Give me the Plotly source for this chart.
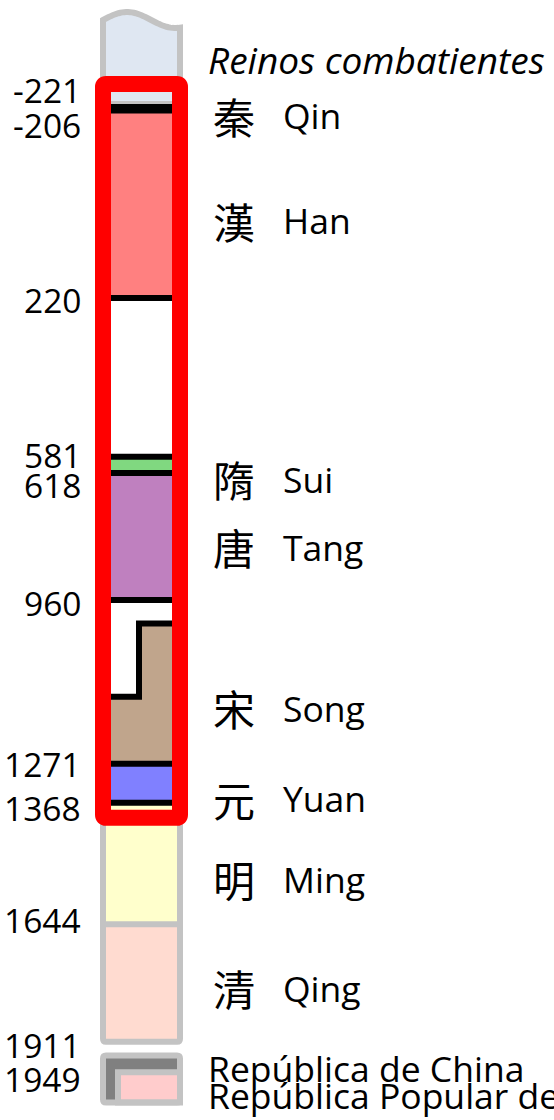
import math
import plotly.graph_objects as go

# ---------------- data ----------------
dynasty_names = ["Reinos combatientes", "Qin", "Han", "Sui", "Tang", "Song", "Yuan", "Ming", "Qing"]
dynasty_hanzi = ["", "秦", "漢", "隋", "唐", "宋", "元", "明", "清"]
dynasty_start = [-475, -221, -206, 581, 618, 960, 1279, 1368, 1644]
dynasty_end = [-221, -206, 220, 618, 907, 1279, 1368, 1644, 1911]
song_full_width_from = 1127          # Song fills the whole column from this year
highlighted = ["Qin", "Han", "Sui", "Tang", "Song", "Yuan"]

modern_names = ["República de China", "República Popular de China"]
modern_start = [1911, 1949]
modern_end = [2018, 2018]

year_labels = [-221, -206, 220, 581, 618, 960, 1271, 1368, 1644, 1911, 1949]

# ---------------- style / layout ----------------
W, H = 554, 1120
PX_PER_YEAR = 0.4398
ANCHOR_YEAR, ANCHOR_PX = -221, 104
MODERN_ANCHOR_PX = 1055.5
COL_L, COL_R = 103, 180
SONG_SPLIT_X = 139
ROC_STRIP_X = 118
GRAY = "#c3c3c3"
BLACK = "#000000"
RED = "#ff0000"
fill_colors = {
    "Reinos combatientes": "#dfe7f2", "Qin": "#000000", "Han": "#ff8080",
    "Sui": "#80d880", "Tang": "#bf80bf", "Song": "#c0a58c", "Yuan": "#8080ff",
    "Ming": "#ffffcc", "Qing": "#ffdbd0",
}
modern_colors = ["#808080", "#ffcccc"]
LATIN_FONT = "Open Sans"
CJK_FONT = "Noto Sans CJK TC"
LABEL_SIZE = 35.5
ITALIC_SIZE = 37
YEAR_SIZE = 33.5
CJK_SIZE = 42
# vertical nudges of the text labels (pixels, positive = down)
name_shift = {"Reinos combatientes": -3, "Qin": 8, "Han": 16, "Sui": 14, "Tang": 10,
              "Song": 14, "Yuan": 15, "Ming": 15, "Qing": 5}
modern_shift = [4, 8]
year_shift = {-221: -14, -206: 14, 220: 2, 581: -2, 618: 12, 960: -20,
              1271: 4, 1368: 5, 1644: -4, 1911: 3, 1949: 7}

y_top = ANCHOR_YEAR - ANCHOR_PX / PX_PER_YEAR
y_bot = y_top + H / PX_PER_YEAR
y2_top = modern_start[0] - MODERN_ANCHOR_PX / PX_PER_YEAR
y2_bot = y2_top + H / PX_PER_YEAR


def dy(px):
    return px / PX_PER_YEAR


def rounded_rect(x0, x1, ya, yb, r):
    ry = dy(r)
    return (f"M {x0 + r},{ya} L {x1 - r},{ya} Q {x1},{ya} {x1},{ya + ry} "
            f"L {x1},{yb - ry} Q {x1},{yb} {x1 - r},{yb} L {x0 + r},{yb} "
            f"Q {x0},{yb} {x0},{yb - ry} L {x0},{ya + ry} Q {x0},{ya} {x0 + r},{ya} Z")


fig = go.Figure()
fig.add_trace(go.Scatter(x=[0], y=[0], mode="markers", marker=dict(opacity=0),
                         hoverinfo="skip", showlegend=False))
fig.add_trace(go.Scatter(x=[0], y=[1950], yaxis="y2", mode="markers",
                         marker=dict(opacity=0), hoverinfo="skip", showlegend=False))

shapes = []

# wavy, truncated top of the column (Warring States continue upwards)
wave = []
for i in range(41):
    t = i / 40
    x = COL_L + (COL_R - COL_L) * t
    ypx = 20 - 8 * math.sin(1.6 * math.pi * t)
    wave.append((x, y_top + dy(ypx)))
ws_end = dynasty_end[0]
ws_path = "M " + " L ".join(f"{x},{y}" for x, y in wave)
shapes.append(dict(type="path", path=ws_path + f" L {COL_R},{ws_end} L {COL_L},{ws_end} Z",
                   fillcolor=fill_colors[dynasty_names[0]], line=dict(width=0)))

hl_idx = [dynasty_names.index(n) for n in highlighted]
first_hl = dynasty_start[hl_idx[0]]
# gray boundary between the Warring States and the highlighted span
shapes.append(dict(type="line", x0=COL_L, x1=COL_R, y0=first_hl, y1=first_hl,
                   line=dict(color=GRAY, width=6)))

# dynasty bands
for name, s, e in zip(dynasty_names[1:], dynasty_start[1:], dynasty_end[1:]):
    if name == "Song":
        p = (f"M {SONG_SPLIT_X},{s} L {COL_R},{s} L {COL_R},{e} L {COL_L},{e} "
             f"L {COL_L},{song_full_width_from} L {SONG_SPLIT_X},{song_full_width_from} Z")
        shapes.append(dict(type="path", path=p, fillcolor=fill_colors[name], line=dict(width=0)))
    else:
        shapes.append(dict(type="rect", x0=COL_L, x1=COL_R, y0=s, y1=e,
                           fillcolor=fill_colors[name], line=dict(width=0)))

# boundaries
hl_bounds = set()
for i in hl_idx:
    if dynasty_names[i] != "Song":
        hl_bounds.add(dynasty_start[i])
    hl_bounds.add(dynasty_end[i])
hl_bounds.discard(first_hl)
gray_bounds = [s for s in dynasty_start[1:] if s > max(hl_bounds)]
for b in gray_bounds:
    shapes.append(dict(type="line", x0=COL_L, x1=COL_R, y0=b, y1=b, line=dict(color=GRAY, width=6)))
for b in sorted(hl_bounds):
    shapes.append(dict(type="line", x0=COL_L, x1=COL_R, y0=b, y1=b, line=dict(color=BLACK, width=6)))
song_s = dynasty_start[dynasty_names.index("Song")]
shapes.append(dict(type="path",
                   path=(f"M {COL_L},{song_full_width_from} L {SONG_SPLIT_X},{song_full_width_from} "
                         f"L {SONG_SPLIT_X},{song_s} L {COL_R},{song_s}"),
                   line=dict(color=BLACK, width=6)))

# gray outline of the column
col_end = dynasty_end[-1]
r = 3
outline = ws_path + (f" L {COL_R},{col_end - dy(r)} Q {COL_R},{col_end} {COL_R - r},{col_end}"
                     f" L {COL_L + r},{col_end} Q {COL_L},{col_end} {COL_L},{col_end - dy(r)} Z")
shapes.append(dict(type="path", path=outline, line=dict(color=GRAY, width=6)))

# red highlight frame
red_top = dynasty_start[hl_idx[0]] - dy(20)
red_bot = dynasty_end[hl_idx[-1]] + dy(15)
shapes.append(dict(type="path", path=rounded_rect(COL_L, COL_R, red_top, red_bot, 3),
                   line=dict(color=RED, width=16)))

# modern box (separate, on its own axis)
box = rounded_rect(COL_L, COL_R, modern_start[0], modern_end[0], 3)
shapes.append(dict(type="path", path=box, yref="y2", fillcolor=modern_colors[0], line=dict(width=0)))
shapes.append(dict(type="rect", x0=ROC_STRIP_X, x1=COL_R, y0=modern_start[1], y1=modern_end[1],
                   yref="y2", fillcolor=modern_colors[1], line=dict(color=GRAY, width=6)))
shapes.append(dict(type="path", path=box, yref="y2", line=dict(color=GRAY, width=6)))

annotations = []
# dynasty names
for name, hz, s, e in zip(dynasty_names, dynasty_hanzi, dynasty_start, dynasty_end):
    if name == dynasty_names[0]:
        ymid = (y_top + dy(20) + e) / 2 + dy(name_shift[name])
        annotations.append(dict(x=206, y=ymid, text=f"<i>{name}</i>", showarrow=False,
                                xanchor="left", yanchor="middle",
                                font=dict(family=LATIN_FONT, size=ITALIC_SIZE, color="black")))
        continue
    ymid = (s + e) / 2 + dy(name_shift[name])
    annotations.append(dict(x=211, y=ymid, text=hz, showarrow=False, xanchor="left",
                            yanchor="middle", font=dict(family=CJK_FONT, size=CJK_SIZE, color="black")))
    annotations.append(dict(x=281, y=ymid, text=name, showarrow=False, xanchor="left",
                            yanchor="middle", font=dict(family=LATIN_FONT, size=LABEL_SIZE, color="black")))
for name, s, e, sh in zip(modern_names, modern_start, modern_end, modern_shift):
    ymid = (s + min(e, s + 70)) / 2 if name == modern_names[1] else (s + modern_start[1]) / 2
    annotations.append(dict(x=206, y=ymid + dy(sh), yref="y2", text=name, showarrow=False,
                            xanchor="left", yanchor="middle",
                            font=dict(family=LATIN_FONT, size=LABEL_SIZE, color="black")))
# year labels
for yv in year_labels:
    ref = "y2" if yv >= modern_start[1] else "y"
    annotations.append(dict(x=83, y=yv + dy(year_shift[yv]), yref=ref, text=str(yv),
                            showarrow=False, xanchor="right", yanchor="middle",
                            font=dict(family=LATIN_FONT, size=YEAR_SIZE, color="black")))

fig.update_layout(
    width=W, height=H, margin=dict(l=0, r=0, t=0, b=0),
    paper_bgcolor="white", plot_bgcolor="white", showlegend=False,
    xaxis=dict(range=[0, W], visible=False, fixedrange=True),
    yaxis=dict(range=[y_bot, y_top], visible=False, fixedrange=True),
    yaxis2=dict(range=[y2_bot, y2_top], visible=False, fixedrange=True, overlaying="y"),
    shapes=shapes, annotations=annotations,
)

fig.write_html("out.html", config={"displayModeBar": False},
               post_script="document.body.style.margin='0px';document.body.style.overflow='hidden';")
